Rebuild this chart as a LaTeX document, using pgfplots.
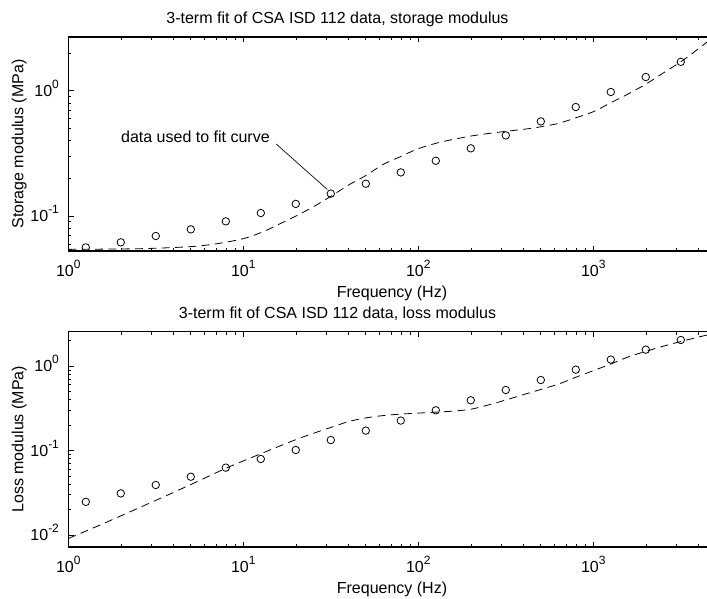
\documentclass[border=0pt]{standalone}
\usepackage{fontspec}
\setmainfont{Liberation Sans}
\usepackage{pgfplots}
\usepackage{pgfplotstable}
\pgfplotsset{compat=1.18}
\newcommand{\tp}[1]{10\raisebox{6pt}{\fontsize{9}{10}\selectfont #1}}

\pgfplotstableread{
x y
1.259 0.0562
1.995 0.0617
3.162 0.0693
5.012 0.0783
7.943 0.0907
12.59 0.1057
19.95 0.125
31.62 0.151
50.12 0.181
79.43 0.223
125.9 0.276
199.5 0.347
316.2 0.440
501.2 0.569
794.3 0.741
1259 0.977
1995 1.286
3162 1.70
}\storagedata

\pgfplotstableread{
x y
1 0.0542
2 0.0546
3 0.0552
5 0.0570
7 0.0600
10 0.0660
13 0.0750
16 0.0860
20 0.100
25 0.118
32 0.145
40 0.177
50 0.210
63 0.258
80 0.300
100 0.345
130 0.385
160 0.410
200 0.435
250 0.455
320 0.475
400 0.492
500 0.515
630 0.548
800 0.610
1000 0.680
1300 0.820
1600 0.950
2000 1.13
2500 1.38
3200 1.72
4000 2.17
5000 2.77
}\storagefit

\pgfplotstableread{
x y
1.259 0.0247
1.995 0.0311
3.162 0.0391
5.012 0.0490
7.943 0.0627
12.59 0.0794
19.95 0.1014
31.62 0.133
50.12 0.172
79.43 0.226
125.9 0.299
199.5 0.393
316.2 0.520
501.2 0.682
794.3 0.905
1259 1.19
1995 1.56
3162 2.03
}\lossdata

\pgfplotstableread{
x y
1 0.0091
1.5 0.0130
2.3 0.0192
3.6 0.0290
5.6 0.0440
8 0.0620
12 0.0880
16 0.112
21 0.140
27 0.168
33 0.193
40 0.220
50 0.243
63 0.259
80 0.270
100 0.277
125 0.284
160 0.293
200 0.308
250 0.345
320 0.399
400 0.459
500 0.527
630 0.609
800 0.740
1000 0.880
1250 1.05
1600 1.29
2000 1.49
2500 1.71
3200 1.96
4000 2.20
5000 2.46
}\lossfit

\begin{document}
\begin{tikzpicture}[font=\fontsize{12}{14}\selectfont]
% top axis
\begin{axis}[
  xmode=log, ymode=log, scale only axis, width=485.5pt, height=160.5pt,
  at={(51.225pt,-188.25pt)}, anchor=south west,
  xmin=1, xmax=5000,
  ymin=0.0526, ymax=2.683,
  xtick={1,10,100,1000},
  xticklabels={\tp{0},\tp{1},\tp{2},\tp{3}},
  minor xtick={2,3,4,5,6,7,8,9,20,30,40,50,60,70,80,90,200,300,400,500,600,700,800,900,2000,3000,4000},
  ytick={0.1,1},
  yticklabels={\tp{-1},\tp{0}},
  minor ytick={0.06,0.07,0.08,0.09,0.2,0.3,0.4,0.5,0.6,0.7,0.8,0.9,2},
  tick align=inside,
  major tick length=4pt, minor tick length=2.3pt,
  tick style={black, line width=0.5pt},
  axis line style={line width=1pt},
  xticklabel style={anchor=base, yshift=-19.3pt},
  yticklabel style={anchor=base east, yshift=-4.3pt, xshift=-3.5pt},
]
\addplot[black, line width=0.6pt, dash pattern=on 6pt off 4pt, smooth, no marks] table[x=x,y=y] {\storagefit};
\addplot[black, only marks, mark=o, mark size=2.8pt, mark options={line width=0.6pt}] table[x=x,y=y] {\storagedata};
\draw[line width=0.5pt] (axis cs:15.4,0.376) -- (axis cs:30.2,0.163);
\node[anchor=base east, inner sep=0pt] at (axis cs:14.2,0.383) {data used to fit curve};
\end{axis}
% bottom axis
\begin{axis}[
  xmode=log, ymode=log, scale only axis, width=485.5pt, height=161.5pt,
  at={(51.225pt,-410.25pt)}, anchor=south west,
  xmin=1, xmax=5000,
  ymin=0.00722, ymax=2.546,
  xtick={1,10,100,1000},
  xticklabels={\tp{0},\tp{1},\tp{2},\tp{3}},
  minor xtick={2,3,4,5,6,7,8,9,20,30,40,50,60,70,80,90,200,300,400,500,600,700,800,900,2000,3000,4000},
  ytick={0.01,0.1,1},
  yticklabels={\tp{-2},\tp{-1},\tp{0}},
  minor ytick={0.02,0.03,0.04,0.05,0.06,0.07,0.08,0.09,0.2,0.3,0.4,0.5,0.6,0.7,0.8,0.9,2},
  tick align=inside,
  major tick length=4pt, minor tick length=2.3pt,
  tick style={black, line width=0.5pt},
  axis line style={line width=1pt},
  xticklabel style={anchor=base, yshift=-19.3pt},
  yticklabel style={anchor=base east, yshift=-4.3pt, xshift=-3.5pt},
]
\addplot[black, line width=0.6pt, dash pattern=on 6pt off 4pt, smooth, no marks] table[x=x,y=y] {\lossfit};
\addplot[black, only marks, mark=o, mark size=2.8pt, mark options={line width=0.6pt}] table[x=x,y=y] {\lossdata};
\end{axis}
% titles and labels
\node[anchor=base] at (253.1pt,-18pt) {3-term fit of CSA ISD 112 data, storage modulus};
\node[anchor=base] at (253.1pt,-238.5pt) {3-term fit of CSA ISD 112 data, loss modulus};
\node[anchor=base] at (294pt,-222.75pt) {Frequency (Hz)};
\node[anchor=base] at (294pt,-444.75pt) {Frequency (Hz)};
\node[rotate=90, anchor=base] at (17.5pt,-108pt) {Storage modulus (MPa)};
\node[rotate=90, anchor=base] at (17.5pt,-329.5pt) {Loss modulus (MPa)};
\pgfresetboundingbox
\useasboundingbox (0,0) rectangle (530.25pt,-449.25pt);
\end{tikzpicture}
\end{document}
